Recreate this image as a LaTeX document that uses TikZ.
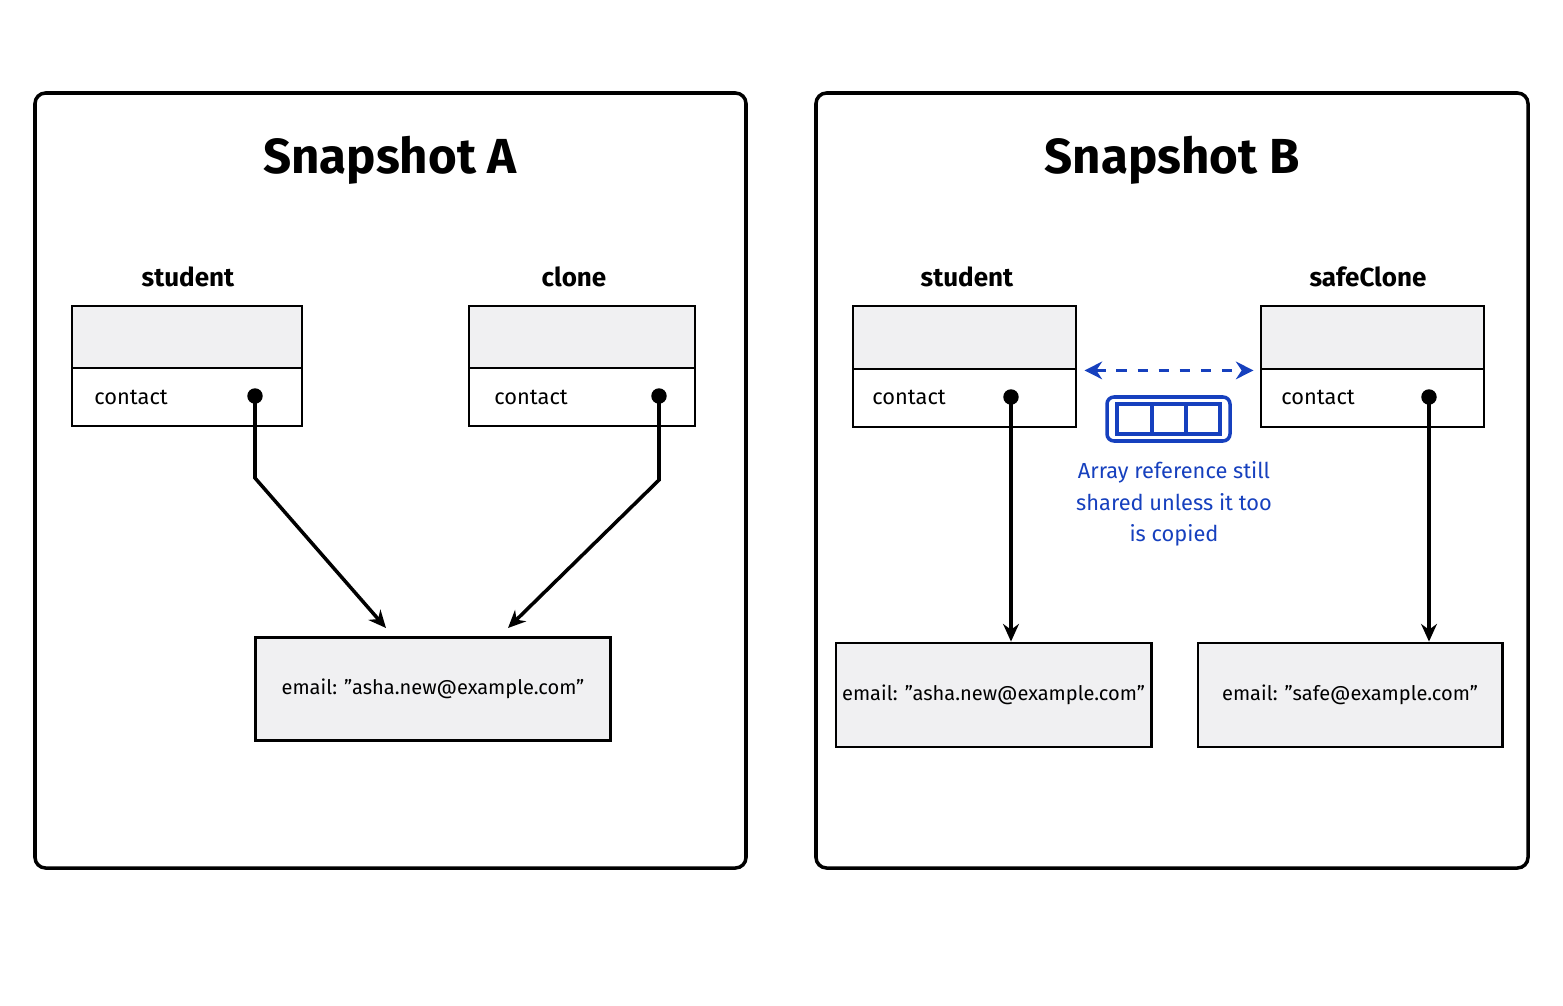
\documentclass[tikz,border=0pt]{standalone}
\usepackage{fontspec}
\setmainfont{Fira Sans}
\usetikzlibrary{arrows.meta,calc}
\definecolor{boxgray}{RGB}{240,240,242}
\definecolor{refblue}{RGB}{22,64,190}
\newcommand{\dq}{\symbol{34}}
\begin{document}
\begin{tikzpicture}[x=0.01cm,y=-0.01cm,
    panel_box/.style={draw,line width=1pt,rounded corners=3pt},
    head_box/.style={draw,line width=0.8pt,fill=boxgray,inner sep=0pt},
    field_box/.style={draw,line width=0.8pt,fill=white,inner sep=0pt},
    val_box/.style={draw,line width=0.8pt,fill=boxgray,inner sep=0pt,font=\fontsize{5.7pt}{7pt}\selectfont},
    var_name/.style={font=\bfseries\fontsize{7.4pt}{9pt}\selectfont},
    title_text/.style={font=\bfseries\fontsize{14pt}{17pt}\selectfont},
    field_text/.style={font=\fontsize{6.2pt}{8pt}\selectfont,anchor=west},
    ptr_dot/.style={circle,fill,inner sep=0pt,minimum size=4.4pt},
    ref_arrow/.style={line width=1pt,-{Stealth[length=5pt,width=4.5pt]}},
    note_text/.style={font=\fontsize{6.2pt}{9pt}\selectfont,text=refblue,align=center}]
    \useasboundingbox (0,0) rectangle (1563,1006);

    % Snapshot A
    \draw[panel_box] (35,93) rectangle (746,868);
    \node[title_text] (tA) at (390,160) {Snapshot A};
    \node[var_name] (nA1) at (188,277) {student};
    \node[var_name] (nA2) at (574,277) {clone};
    \node[head_box,minimum width=2.30cm,minimum height=0.62cm] (hA1) at (187,337) {};
    \node[field_box,minimum width=2.30cm,minimum height=0.58cm] (fA1) at (187,397) {};
    \node[head_box,minimum width=2.26cm,minimum height=0.62cm] (hA2) at (582,337) {};
    \node[field_box,minimum width=2.26cm,minimum height=0.58cm] (fA2) at (582,397) {};
    \node[field_text] (cA1) at (82,397) {contact};
    \node[field_text] (cA2) at (482,397) {contact};
    \node[ptr_dot] (dA1) at (255,396) {};
    \node[ptr_dot] (dA2) at (659,396) {};
    \node[val_box,minimum width=3.54cm,minimum height=1.03cm] (eA) at (433,689) {email: \dq asha.new@example.com\dq};
    \coordinate (kA1) at (255,478);
    \coordinate (kA2) at (659,480);
    \coordinate (tipA1) at (386,628);
    \coordinate (tipA2) at (508,628);
    \draw[ref_arrow] (dA1.center) -- (kA1) -- (tipA1);
    \draw[ref_arrow] (dA2.center) -- (kA2) -- (tipA2);

    % Snapshot B
    \draw[panel_box] (816,93) rectangle (1528,868);
    \node[title_text] (tB) at (1172,160) {Snapshot B};
    \node[var_name] (nB1) at (967,277) {student};
    \node[var_name] (nB2) at (1368,277) {safeClone};
    \node[head_box,minimum width=2.23cm,minimum height=0.63cm] (hB1) at (964.5,337.5) {};
    \node[field_box,minimum width=2.23cm,minimum height=0.58cm] (fB1) at (964.5,398) {};
    \node[head_box,minimum width=2.23cm,minimum height=0.63cm] (hB2) at (1372.5,337.5) {};
    \node[field_box,minimum width=2.23cm,minimum height=0.58cm] (fB2) at (1372.5,398) {};
    \node[field_text] (cB1) at (860,397) {contact};
    \node[field_text] (cB2) at (1269,397) {contact};
    \node[ptr_dot] (dB1) at (1011,397) {};
    \node[ptr_dot] (dB2) at (1429,397) {};
    \node[val_box,minimum width=3.15cm,minimum height=1.04cm] (eB1) at (993.5,695) {email: \dq asha.new@example.com\dq};
    \node[val_box,minimum width=3.04cm,minimum height=1.04cm] (eB2) at (1350,695) {email: \dq safe@example.com\dq};
    \draw[ref_arrow] (dB1.center) -- (eB1.north -| dB1);
    \draw[ref_arrow] (dB2.center) -- (eB2.north -| dB2);

    % shared array
    \draw[refblue,line width=0.9pt,dashed,{Stealth[length=5pt,width=5pt]}-{Stealth[length=5pt,width=5pt]}] ($(hB1.south east)+(7,0)$) -- ($(hB2.south west)+(-6,0)$);
    \draw[refblue,line width=1pt,rounded corners=2pt] (1107,397) rectangle (1230,441);
    \draw[refblue,line width=0.9pt] (1117,404) rectangle (1220,434);
    \draw[refblue,line width=0.9pt] (1152,404) -- (1152,434) (1186,404) -- (1186,434);
    \node[note_text] (note) at (1174,504) {Array reference still\\shared unless it too\\is copied};
\end{tikzpicture}
\end{document}
